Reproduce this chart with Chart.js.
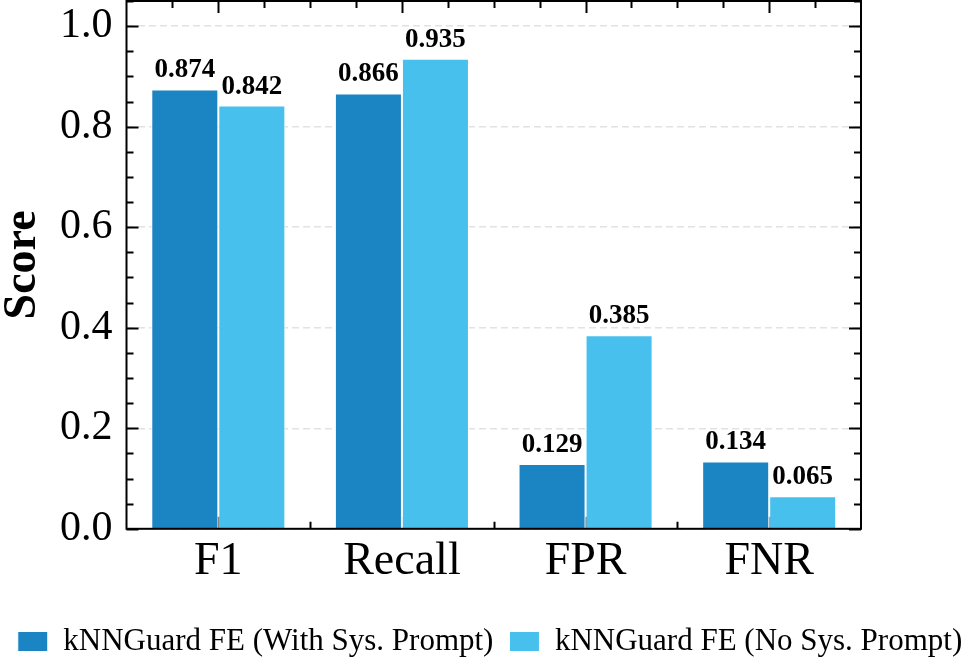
<!DOCTYPE html>
<html lang="en">
<head>
  <meta charset="UTF-8">
  <title>Score</title>
  <script src="https://cdn.jsdelivr.net/npm/chart.js"></script>
  <style>
    body { margin: 0; background: #fff; }
    #wrap { width: 980px; height: 659px; }
  </style>
</head>
<body>
  <div id="wrap"><canvas id="scoreChart"></canvas></div>
  <script>
    // data
    const categories = ['F1', 'Recall', 'FPR', 'FNR'];
    const withPrompt = [0.874, 0.866, 0.129, 0.134];
    const noPrompt = [0.842, 0.935, 0.385, 0.065];
    const seriesNames = ['kNNGuard FE (With Sys. Prompt)', 'kNNGuard FE (No Sys. Prompt)'];
    const yTicks = [0, 0.2, 0.4, 0.6, 0.8, 1.0];
    const yMinorStep = 0.05;
    const yMax = 1.05;

    const serif = "'Liberation Serif', 'Times New Roman', serif";

    // matplotlib style box with inward ticks on all four sides
    const boxTicks = {
      id: 'boxTicks',
      beforeDatasetsDraw(chart) {
        const { ctx, chartArea: a, scales: { x, y } } = chart;
        ctx.save();
        ctx.strokeStyle = '#000';
        ctx.lineWidth = 2;
        ctx.beginPath();
        // y ticks left + right
        for (let v = 0; v <= yMax + 1e-9; v += yMinorStep) {
          const major = yTicks.some(t => Math.abs(t - v) < 1e-6);
          const len = major ? 12 : 7;
          const py = Math.round(y.getPixelForValue(v)) + 0.5;
          ctx.moveTo(a.left, py); ctx.lineTo(a.left + len, py);
          ctx.moveTo(a.right, py); ctx.lineTo(a.right - len, py);
        }
        // x ticks top + bottom, minor every quarter category
        const step = x.getPixelForValue(1) - x.getPixelForValue(0);
        for (let q = -1; q <= categories.length * 4 - 3; q++) {
          const px = Math.round(x.getPixelForValue(0) + q * step / 4) + 0.5;
          if (px <= a.left + 1 || px >= a.right - 1) continue;
          const len = q % 4 === 0 ? 12 : 7;
          ctx.moveTo(px, a.top); ctx.lineTo(px, a.top + len);
          ctx.moveTo(px, a.bottom); ctx.lineTo(px, a.bottom - len);
        }
        ctx.stroke();
        ctx.restore();
      },
      afterDatasetsDraw(chart) {
        const { ctx, chartArea: a } = chart;
        ctx.save();
        ctx.strokeStyle = '#000';
        ctx.lineWidth = 2;
        ctx.strokeRect(a.left, a.top, a.right - a.left, a.bottom - a.top);
        // value labels above bars
        ctx.fillStyle = '#000';
        ctx.font = 'bold 27px ' + serif;
        ctx.textAlign = 'center';
        ctx.textBaseline = 'alphabetic';
        chart.data.datasets.forEach((ds, i) => {
          chart.getDatasetMeta(i).data.forEach((bar, j) => {
            ctx.fillText(ds.data[j].toFixed(3), bar.x, bar.y - 12);
          });
        });
        ctx.restore();
      }
    };

    const ctx = document.getElementById('scoreChart').getContext('2d');
    new Chart(ctx, {
      type: 'bar',
      data: {
        labels: categories,
        datasets: [
          {
            label: seriesNames[0],
            data: withPrompt,
            backgroundColor: '#1b84c3',
            borderColor: '#ffffff',
            borderWidth: 1,
            categoryPercentage: 0.73,
            barPercentage: 1.0
          },
          {
            label: seriesNames[1],
            data: noPrompt,
            backgroundColor: '#48c0ee',
            borderColor: '#ffffff',
            borderWidth: 1,
            categoryPercentage: 0.73,
            barPercentage: 1.0
          }
        ]
      },
      options: {
        responsive: true,
        maintainAspectRatio: false,
        animation: false,
        layout: { padding: { left: 0, right: 0, top: 1, bottom: -8 } },
        scales: {
          x: {
            grid: { display: false, drawTicks: false },
            border: { display: false },
            ticks: { color: '#000', font: { family: serif, size: 46 }, padding: 6 },
            afterFit(scale) { scale.height += 14; scale.paddingLeft = 0; scale.paddingRight = 0; }
          },
          y: {
            min: 0,
            max: yMax,
            afterBuildTicks(scale) { scale.ticks = yTicks.map(v => ({ value: v })); },
            afterFit(scale) { scale.paddingTop = 0; scale.paddingBottom = 0; },
            grid: { color: '#e2e2e2', lineWidth: 1.5, drawTicks: false },
            border: { display: false, dash: [7, 4] },
            ticks: {
              color: '#000',
              font: { family: serif, size: 42 },
              padding: 14,
              callback: v => Number(v).toFixed(1)
            },
            title: {
              display: true,
              text: 'Score',
              color: '#000',
              font: { family: serif, size: 46, weight: 'bold', lineHeight: 1.0 },
              padding: { top: 0, bottom: 0 }
            }
          },
          // empty right-hand spacer so the legend keeps the full width
          spacer: {
            type: 'linear',
            position: 'right',
            display: true,
            grid: { display: false },
            border: { display: false },
            ticks: { display: false },
            afterFit(scale) { scale.width = 119; }
          }
        },
        plugins: {
          legend: {
            position: 'bottom',
            labels: {
              color: '#000',
              font: { family: serif, size: 31 },
              boxWidth: 30,
              boxHeight: 20,
              padding: 16
            }
          },
          tooltip: { enabled: false }
        }
      },
      plugins: [boxTicks]
    });
  </script>
</body>
</html>
